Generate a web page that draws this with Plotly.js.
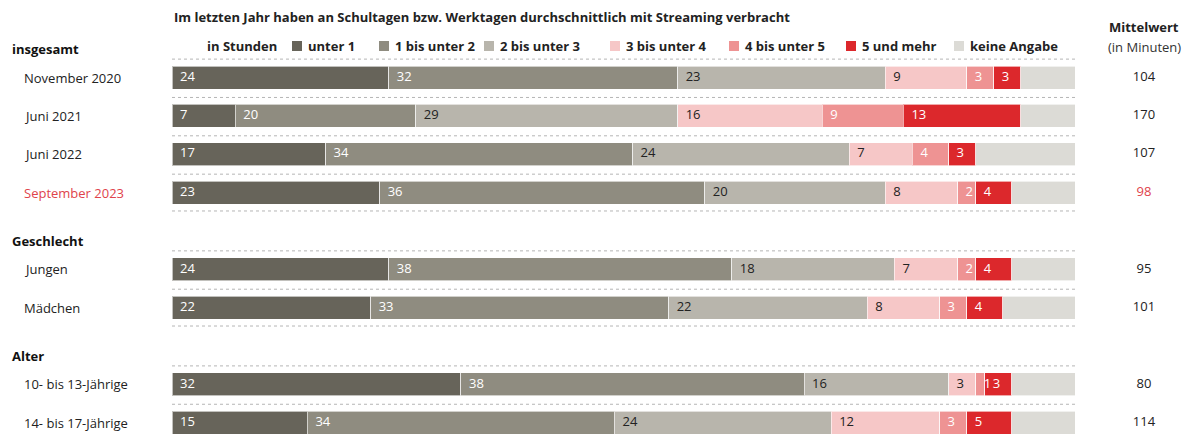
<!DOCTYPE html>
<html>
<head>
<meta charset="utf-8">
<script src="https://cdn.plot.ly/plotly-3.0.1.min.js"></script>
<style>
  body { margin: 0; background: #fff; }
  #chart { width: 1189px; height: 439px; }
</style>
</head>
<body>
<div id="chart"></div>
<script>
// Zeilen und Gruppen
const rows = ['November 2020', 'Juni 2021', 'Juni 2022', 'September 2023', 'Jungen', 'Mädchen', '10- bis 13-Jährige', '14- bis 17-Jährige'];
const rowPos = [0, 1, 2, 3, 5, 6, 8, 9];
const groups = ['insgesamt', 'Geschlecht', 'Alter'];
const groupPos = [-0.75, 4.25, 7.25];
const lastInGroup = [3, 6, 9];

const categories = ['unter 1', '1 bis unter 2', '2 bis unter 3', '3 bis unter 4', '4 bis unter 5', '5 und mehr', 'keine Angabe'];
const unter1 = [24, 7, 17, 23, 24, 22, 32, 15];
const bis2 = [32, 20, 34, 36, 38, 33, 38, 34];
const bis3 = [23, 29, 24, 20, 18, 22, 16, 24];
const bis4 = [9, 16, 7, 8, 7, 8, 3, 12];
const bis5 = [3, 9, 4, 2, 2, 3, 1, 3];
const mehr5 = [3, 13, 3, 4, 4, 4, 3, 5];
const keine = [6, 6, 11, 7, 7, 8, 7, 7];
const mittelwert = [104, 170, 107, 98, 95, 101, 80, 114];

const colors = ['#67645a', '#8f8c80', '#b8b5ac', '#f6c7c7', '#ee9393', '#dc282c', '#dcdbd6'];
const textColors = ['#fff', '#fff', '#222', '#222', '#fff', '#fff'];
const red = '#e0434b';
const font = 'Open Sans, sans-serif';

// Pixel -> paper Hilfen
const W = 1189, H = 439, L = 172, T = 20, B = 1;
const pxPerUnit = 9.03;
const px = (x) => (x - L) / (W - L);
const py = (y) => (H - B - y) / (H - T - B);

const series = [unter1, bis2, bis3, bis4, bis5, mehr5, keine];
const data = series.map((vals, i) => ({
  type: 'bar',
  orientation: 'h',
  name: categories[i],
  x: vals,
  y: rowPos,
  marker: { color: colors[i], line: { color: 'rgba(255,255,255,0.6)', width: 1 } },
  hoverinfo: 'skip'
}));

// Beschriftung der Segmente: links im Segment
const start = rowPos.map(() => 0);
series.slice(0, 6).forEach((vals, i) => {
  data.push({
    type: 'scatter',
    mode: 'text',
    x: start.map(s => s + 8 / pxPerUnit),
    y: rowPos,
    text: vals.map(String),
    textposition: 'middle right',
    textfont: { family: font, size: 13, color: textColors[i] },
    hoverinfo: 'skip',
    cliponaxis: false
  });
  vals.forEach((v, k) => { start[k] += v; });
});

data.push({
  type: 'scatter',
  mode: 'text',
  x: rowPos.map(() => (1144 - L) / pxPerUnit),
  y: rowPos,
  text: mittelwert.map(String),
  textposition: 'middle center',
  textfont: { family: font, size: 13, color: rows.map(r => r === 'September 2023' ? red : '#222') },
  hoverinfo: 'skip',
  cliponaxis: false
});

const shapes = [];
const dotted = (y) => ({
  type: 'line', xref: 'x', yref: 'y', x0: 0, x1: 100, y0: y, y1: y,
  line: { color: '#b5b5b5', width: 1, dash: 'dot' }, layer: 'below'
});
rowPos.forEach(p => shapes.push(dotted(p - 0.48)));
lastInGroup.forEach(p => shapes.push(dotted(p + 0.48)));

// Legende
const legendX = [297, 384, 489, 615, 734, 851, 959];
legendX.forEach((x, i) => {
  shapes.push({
    type: 'rect', xref: 'paper', yref: 'paper',
    x0: px(x - 5), x1: px(x + 5), y0: py(51), y1: py(41),
    fillcolor: colors[i], line: { width: 0 }
  });
});

const annotations = [];
annotations.push({
  xref: 'paper', yref: 'paper', x: px(172), y: py(17), xanchor: 'left', yanchor: 'middle',
  text: '<b>Im letzten Jahr haben an Schultagen bzw. Werktagen durchschnittlich mit Streaming verbracht</b>',
  showarrow: false, font: { family: font, size: 13, color: '#222' }
});
annotations.push({
  xref: 'paper', yref: 'paper', x: px(205), y: py(46), xanchor: 'left', yanchor: 'middle',
  text: '<b>in Stunden</b>', showarrow: false, font: { family: font, size: 13, color: '#222' }
});
legendX.forEach((x, i) => {
  annotations.push({
    xref: 'paper', yref: 'paper', x: px(x + 9), y: py(46), xanchor: 'left', yanchor: 'middle',
    text: '<b>' + categories[i] + '</b>', showarrow: false, font: { family: font, size: 13, color: '#222' }
  });
});
annotations.push({
  xref: 'paper', yref: 'paper', x: px(1144), y: py(27), xanchor: 'center', yanchor: 'middle',
  text: '<b>Mittelwert</b>', showarrow: false, font: { family: font, size: 13, color: '#222' }
});
annotations.push({
  xref: 'paper', yref: 'paper', x: px(1144), y: py(47), xanchor: 'center', yanchor: 'middle',
  text: '(in Minuten)', showarrow: false, font: { family: font, size: 13, color: '#333' }
});
groups.forEach((g, i) => {
  annotations.push({
    xref: 'paper', yref: 'y', x: px(10), y: groupPos[i], xanchor: 'left', yanchor: 'middle',
    text: '<b>' + g + '</b>', showarrow: false, font: { family: font, size: 13, color: '#111' }
  });
});
rows.forEach((r, i) => {
  annotations.push({
    xref: 'paper', yref: 'y', x: px(22), y: rowPos[i], xanchor: 'left', yanchor: 'middle',
    text: r, showarrow: false,
    font: { family: font, size: 13, color: r === 'September 2023' ? red : '#222' }
  });
});

const layout = {
  width: W,
  height: H,
  margin: { l: L, r: 0, t: T, b: B },
  paper_bgcolor: '#fff',
  plot_bgcolor: '#fff',
  barmode: 'stack',
  bargap: 0.4,
  showlegend: false,
  xaxis: { range: [0, (W - L) / pxPerUnit], visible: false, fixedrange: true },
  yaxis: { range: [9.4, -1.5], visible: false, fixedrange: true },
  shapes: shapes,
  annotations: annotations,
  font: { family: font }
};

Plotly.newPlot('chart', data, layout, { displayModeBar: false, staticPlot: true });
</script>
</body>
</html>
